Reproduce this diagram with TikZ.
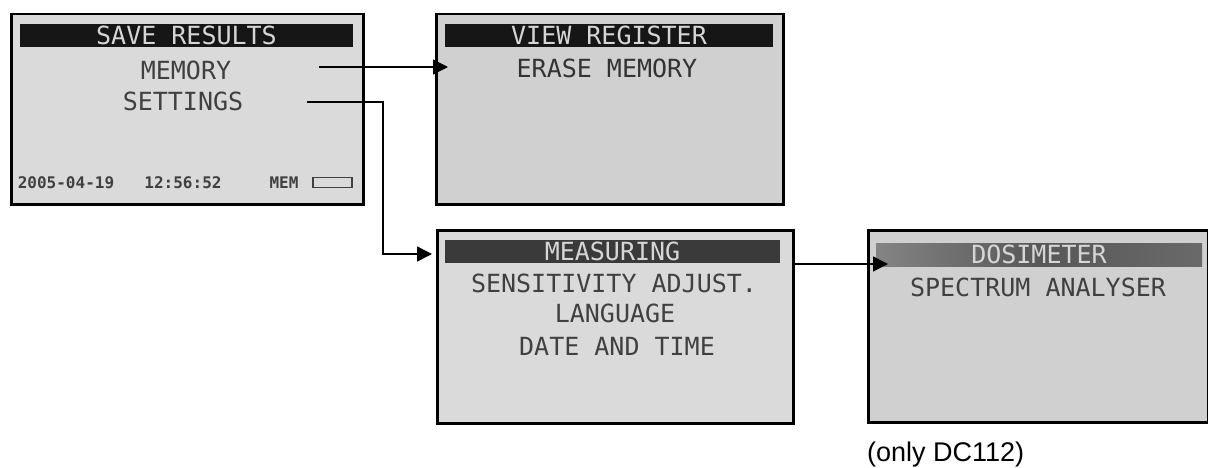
\documentclass[tikz,border=0pt]{standalone}
\usepackage{fontspec}
\setmainfont{Liberation Sans}
\setmonofont{DejaVu Sans Mono}
\usepackage{xcolor}
\usepackage{tikz}
\usetikzlibrary{arrows.meta, positioning, calc}
\definecolor{LcdBack}{RGB}{218, 218, 218}
\definecolor{LcdDim}{RGB}{208, 208, 208}
\definecolor{LcdInk}{RGB}{64, 64, 64}
\definecolor{LcdBar}{RGB}{22, 22, 22}
\definecolor{LcdBarGrey}{RGB}{58, 58, 58}
\definecolor{LcdFade}{RGB}{132, 132, 132}
\definecolor{LcdLite}{RGB}{214, 214, 214}
\newcommand\lcdfont{\fontsize{25}{25}\selectfont\ttfamily}
\newcommand\lcdsmall{\fontsize{16}{16}\selectfont\ttfamily\bfseries}
\newcommand\notefont{\fontsize{27}{27}\selectfont}

\begin{document}
\begin{tikzpicture}[x=1pt, y=-1pt,
  scr/.style={draw=black, line width=2.5pt, fill=LcdBack, anchor=north west,
              inner sep=0},
  bar/.style={fill=LcdBar, inner sep=0, minimum height=23pt,
              font=\lcdfont, text=LcdLite},
  lcd/.style={font=\lcdfont, text=LcdInk, inner sep=0},
  eg/.style={-{Triangle[length=15pt, width=15pt]}, line width=1.5pt}
]
  \useasboundingbox (0,0) rectangle (1208,468);

  % ---- SAVE RESULTS (top left) ----
  \node[scr, minimum width=352pt, minimum height=190pt] (s1) at (10,13) {};
  \node[bar, minimum width=333pt] (b1) at (186.5,35.5) {SAVE RESULTS};
  \node[lcd] (mem)  at (186,70)  {MEMORY};
  \node[lcd] (set)  at (183,101) {SETTINGS};
  \node[lcd, font=\lcdsmall] (date) at (66,183)  {2005-04-19};
  \node[lcd, font=\lcdsmall] (time) at (183,183) {12:56:52};
  \node[lcd, font=\lcdsmall] (mtag) at (284,183) {MEM};
  \node[draw=LcdInk, line width=1.2pt, minimum width=39pt,
        minimum height=10pt, inner sep=0] (bat) at (332.5,182.5) {};

  % ---- VIEW REGISTER (top right) ----
  \node[scr, fill=LcdDim, minimum width=347pt, minimum height=190pt] (s2) at (435,13) {};
  \node[bar, minimum width=328pt] (b2) at (609,35.5) {VIEW REGISTER};
  \node[lcd, text=black!80] (erase) at (607,68) {ERASE MEMORY};

  % ---- MEASURING (bottom middle) ----
  \node[scr, minimum width=356pt, minimum height=193pt] (s3) at (436,229) {};
  \node[bar, fill=LcdBarGrey, minimum width=335pt] (b3) at (612.5,251) {MEASURING};
  \node[lcd] (sens) at (614,283) {SENSITIVITY ADJUST.};
  \node[lcd] (lang) at (615,313) {LANGUAGE};
  \node[lcd] (dt)   at (617,346) {DATE AND TIME};

  % ---- DOSIMETER (bottom right) ----
  \node[scr, fill=LcdDim, minimum width=340pt, minimum height=192pt] (s4) at (867,229) {};
  \node[bar, left color=LcdFade, right color=LcdFade!80!black,
        middle color=LcdBarGrey!85!white, minimum width=326pt] (b4) at (1039,254.5) {DOSIMETER};
  \node[lcd] (spec) at (1038,287) {SPECTRUM ANALYSER};
  \node[font=\notefont, anchor=base west, inner sep=0] (note) at (867,461) {(only DC112)};

  % ---- arrows ----
  \coordinate (m1)    at (319,67);
  \coordinate (m1tip) at (448,67);
  \coordinate (m2)    at (307,102);
  \coordinate (m2tip) at (432,254);
  \coordinate (m3tip) at (888,264);
  \draw[eg] (m1) -- (m1tip);
  \draw[eg] (m2) -| ([xshift=-49pt]m2tip) -- (m2tip);
  \draw[eg] (s3.east |- m3tip) -- (m3tip);
\end{tikzpicture}
\end{document}
